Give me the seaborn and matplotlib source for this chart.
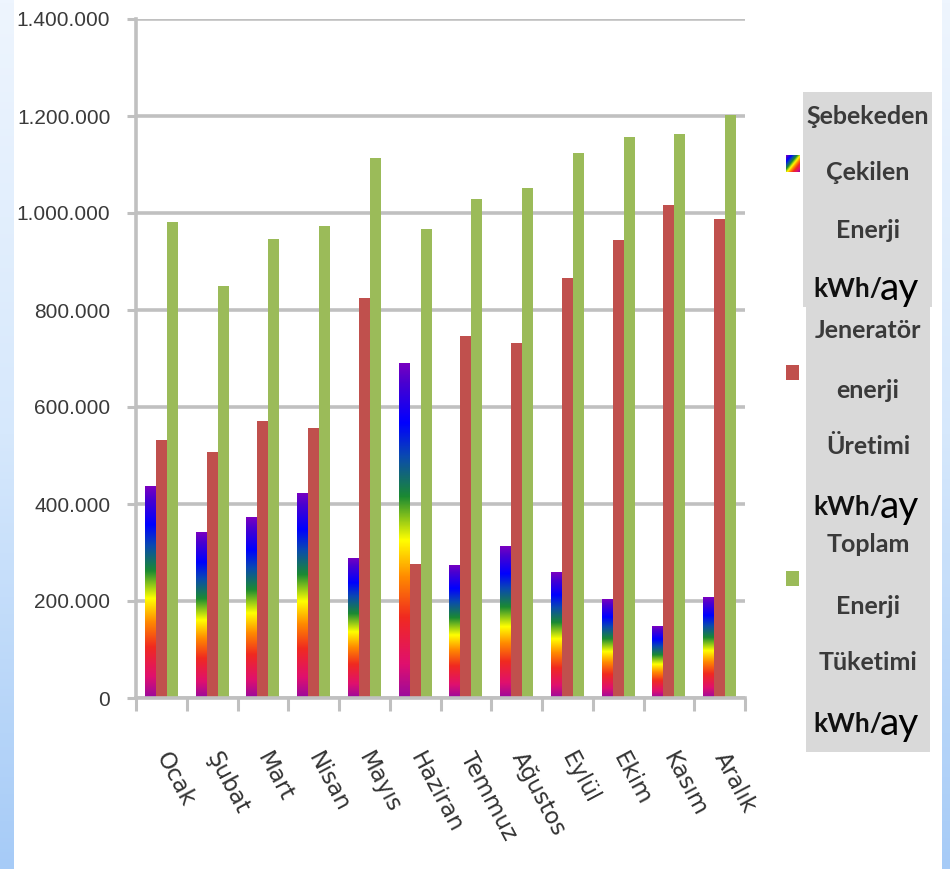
import numpy as np
import pandas as pd
import matplotlib
matplotlib.use("Agg")
import matplotlib.pyplot as plt
from matplotlib.colors import LinearSegmentedColormap
from matplotlib.patches import Rectangle
from matplotlib.ticker import FixedLocator, FuncFormatter
import seaborn as sns

# ---- data (kWh per month) ----
months = ["Ocak", "Şubat", "Mart", "Nisan", "Mayıs", "Haziran",
          "Temmuz", "Ağustos", "Eylül", "Ekim", "Kasım", "Aralık"]
grid_energy = [437000, 342000, 373000, 423000, 289000, 691000,
               275000, 313000, 259000, 204000, 148000, 208000]
generator_energy = [532000, 507000, 571000, 557000, 825000, 276000,
                    746000, 732000, 866000, 944000, 1017000, 987000]
total_energy = [981000, 850000, 946000, 973000, 1113000, 967000,
                1029000, 1052000, 1124000, 1157000, 1162000, 1202000]
series_keys = ["grid", "generator", "total"]
legend_lines = [["Şebekeden", "Çekilen", "Enerji", "kWh/"],
                ["Jeneratör", "enerji", "Üretimi", "kWh/"],
                ["Toplam", "Enerji", "Tüketimi", "kWh/"]]
unit_suffix = "ay"
y_ticks = [0, 200000, 400000, 600000, 800000, 1000000, 1200000, 1400000]

W, H = 950, 869


def fx(x):
    return x / W


def fy(y):
    return 1 - y / H


df = pd.DataFrame({"month": months, "grid": grid_energy,
                   "generator": generator_energy, "total": total_energy})
long = df.melt(id_vars="month", value_vars=series_keys,
               var_name="series", value_name="kwh")

sns.set_theme(style="white")
plt.rcParams["font.family"] = ["Liberation Sans", "DejaVu Sans"]

fig = plt.figure(figsize=(W / 100, H / 100), dpi=100)
fig.patch.set_facecolor("white")

# blue side strips
strip = np.linspace(0, 1, 256).reshape(-1, 1)
strip_cmap = LinearSegmentedColormap.from_list("strip", ["#eef5fe", "#d6e8fc", "#a6cbf7"])
for x0, x1 in [(0, 14), (942, 950)]:
    sax = fig.add_axes([fx(x0), 0, fx(x1) - fx(x0), 1], zorder=-5)
    sax.imshow(strip, cmap=strip_cmap, aspect="auto", origin="upper")
    sax.set_axis_off()

ax = fig.add_axes([fx(136), fy(698), fx(745) - fx(136), fy(19) - fy(698)])

red = "#c0504d"
green = "#9bbb59"
sns.barplot(data=long, x="month", y="kwh", hue="series", hue_order=series_keys,
            palette=["#7030a0", red, green], width=0.65, saturation=1,
            legend=False, ax=ax, linewidth=0, errorbar=None)

# rainbow fill for the grid-energy bars
rainbow = LinearSegmentedColormap.from_list("rainbow_fill", [
    (0.00, "#9a0a9e"), (0.10, "#e0106e"), (0.24, "#f02a20"),
    (0.36, "#ff8a00"), (0.47, "#ffff00"), (0.60, "#1b8a32"),
    (0.72, "#0a4ab0"), (0.82, "#0000ff"), (0.94, "#4a00d0"),
    (1.00, "#7a00c0")])
grad = np.linspace(0, 1, 256).reshape(-1, 1)
for patch in ax.containers[0].patches:
    x, y0 = patch.get_x(), patch.get_y()
    w, h = patch.get_width(), patch.get_height()
    im = ax.imshow(grad, cmap=rainbow, origin="lower", aspect="auto",
                   extent=[x, x + w, y0, y0 + h], zorder=patch.get_zorder())
    im.set_clip_path(patch)
    patch.set_facecolor("none")

ax.set_xlim(-0.5, len(months) - 0.5)
ax.set_ylim(0, 1400000)
ax.set_aspect("auto")

grid_col = "#c0c0c0"
ax.set_axisbelow(True)
ax.yaxis.grid(True, color=grid_col, linewidth=2.6)
ax.xaxis.grid(False)
for s in ["top", "right"]:
    ax.spines[s].set_visible(False)
for s in ["left", "bottom"]:
    ax.spines[s].set_color(grid_col)
    ax.spines[s].set_linewidth(2.6)

ax.set_yticks(y_ticks)
ax.yaxis.set_major_formatter(FuncFormatter(lambda v, p: f"{int(v):,}".replace(",", ".")))
ax.tick_params(axis="y", which="major", length=6.5, width=2.2, color=grid_col,
               pad=12, labelsize=15, labelcolor="#3a3a3a", left=True)

ax.set_xticks(range(len(months)))
ax.set_xticklabels(months, rotation=-62, ha="left", va="center",
                   rotation_mode="anchor", fontsize=16.5,
                   family=["DejaVu Sans"], color="#333333")
ax.tick_params(axis="x", which="major", length=0, pad=40)
ax.xaxis.set_minor_locator(FixedLocator(np.arange(-0.5, len(months), 1.0)))
ax.tick_params(axis="x", which="minor", length=9, width=2.2, color=grid_col,
               bottom=True)
ax.set_xlabel("")
ax.set_ylabel("")

# legend column
boxes = [(803, 92, 932, 307), (806, 307, 930, 528), (806, 528, 930, 752)]
for (x0, y0, x1, y1) in boxes:
    fig.patches.append(Rectangle((fx(x0), fy(y1)), fx(x1) - fx(x0), fy(y0) - fy(y1),
                                 transform=fig.transFigure, facecolor="#d9d9d9",
                                 edgecolor="none", zorder=1))

legend_font = ["Lato", "Liberation Sans", "DejaVu Sans"]
line_ys = [[117, 173, 230, 287], [330, 390, 447, 505], [545, 607, 663, 722]]
for lines, ys in zip(legend_lines, line_ys):
    for txt, yy in zip(lines[:3], ys[:3]):
        fig.text(fx(868), fy(yy), txt, ha="center", va="center", fontsize=18,
                 fontweight="bold", family=legend_font, color="#3a3a3a", zorder=3)
    fig.text(fx(882), fy(ys[3] + 2), lines[3], ha="right", va="center",
             fontsize=19, fontweight="bold", family=legend_font,
             color="#111111", zorder=3)
    fig.text(fx(880), fy(ys[3] + 2), unit_suffix, ha="left", va="center",
             fontsize=28, family=legend_font, color="#000000", zorder=3)

# legend keys
kax = fig.add_axes([fx(786), fy(172), fx(800) - fx(786), fy(155) - fy(172)])
xx, yy = np.meshgrid(np.linspace(0, 1, 16), np.linspace(0, 1, 16))
kax.imshow(1 - (xx + yy) / 2, cmap=rainbow, origin="upper", aspect="auto")
kax.set_axis_off()
for col, (y0, y1) in [(red, (365, 380)), (green, (571, 586))]:
    fig.patches.append(Rectangle((fx(786), fy(y1)), fx(799) - fx(786), fy(y0) - fy(y1),
                                 transform=fig.transFigure, facecolor=col,
                                 edgecolor="none", zorder=3))

fig.savefig("out.png", dpi=100, facecolor="white")
